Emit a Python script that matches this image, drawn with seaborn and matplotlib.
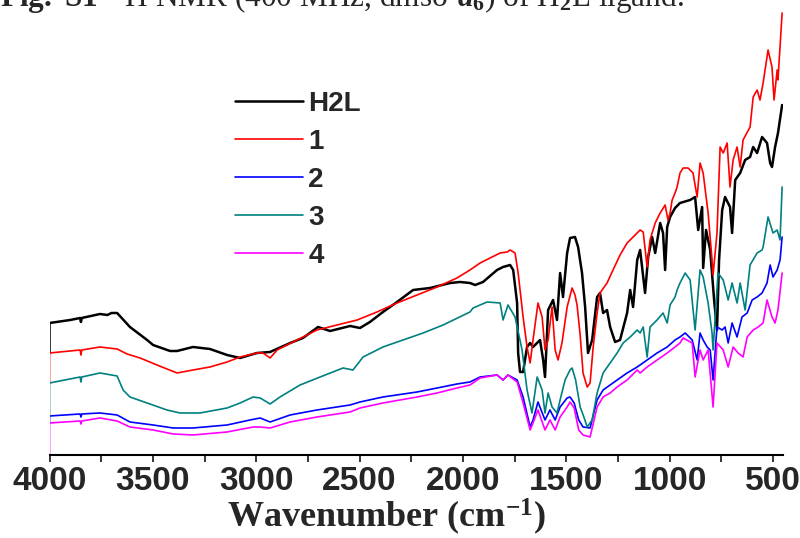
import matplotlib
matplotlib.use("Agg")
import matplotlib.pyplot as plt
from matplotlib.ticker import MultipleLocator
import pandas as pd
import seaborn as sns

# ---- FT-IR spectra (transmittance, arbitrary units, offset for clarity) ----
samples = ["H2L", "1", "2", "3", "4"]
colors = ["#000000", "#ff0000", "#0000ff", "#008080", "#ff00ff"]

wn_h2l = [4000, 3900, 3852, 3848, 3844, 3756, 3720, 3700, 3673, 3611, 3528, 3499, 3417, 3383,
          3306, 3224, 3141, 3078, 3030, 2996, 2933, 2836, 2774, 2701, 2643, 2546, 2498, 2450,
          2387, 2319, 2241, 2159, 2062, 2014, 1966, 1941, 1903, 1835, 1806, 1772, 1757, 1738,
          1733, 1724, 1709, 1690, 1675, 1661, 1627, 1612, 1603, 1588, 1564, 1545, 1530, 1516,
          1496, 1482, 1458, 1443, 1424, 1409, 1395, 1375, 1351, 1337, 1322, 1303, 1288, 1264,
          1240, 1206, 1191, 1177, 1157, 1143, 1119, 1104, 1085, 1070, 1046, 1032, 1022, 1012,
          998, 974, 950, 901, 877, 862, 843, 838, 824, 804, 785, 771, 761, 746, 732, 708, 698,
          683, 659, 635, 611, 596, 577, 553, 529, 514, 505, 490, 476, 456]
t_h2l = [132, 135, 137, 133, 137, 141, 140, 142, 142, 128, 115, 110, 104, 104,
         108, 106, 100, 97, 100, 102, 103, 112, 117, 128, 124, 129, 127, 133,
         143, 153, 165, 167, 172, 173, 172, 170, 173, 185, 188, 190, 185, 152,
         102, 83, 83, 108, 112, 108, 115, 95, 78, 145, 155, 135, 182, 158,
         202, 217, 218, 208, 182, 148, 102, 115, 158, 162, 142, 145, 128, 113,
         115, 142, 165, 148, 195, 205, 162, 198, 218, 202, 232, 222, 185, 228,
         238, 247, 252, 255, 258, 225, 248, 187, 225, 205, 155, 125, 195, 245, 258, 248, 222,
         275, 282, 295, 298, 308, 302, 318, 312, 292, 288, 308, 322, 350]

wn_1 = [4000, 3852, 3848, 3844, 3756, 3673, 3625, 3562, 3480, 3383, 3306, 3224, 3141, 3078,
        2996, 2967, 2933, 2899, 2803, 2706, 2609, 2512, 2416, 2319, 2222, 2125, 2029, 1966,
        1917, 1820, 1786, 1772, 1748, 1733, 1709, 1690, 1675, 1661, 1637, 1617, 1603, 1588,
        1569, 1554, 1540, 1521, 1496, 1472, 1458, 1448, 1433, 1419, 1399, 1385, 1370, 1351,
        1337, 1303, 1274, 1240, 1206, 1177, 1143, 1128, 1109, 1095, 1070, 1046, 1022, 1008,
        998, 988, 974, 964, 950, 935, 911, 887, 867, 853, 838, 814, 795, 790, 771, 756, 741,
        722, 708, 693, 674, 659, 645, 611, 596, 577, 563, 548, 524, 505, 495, 480, 476, 456]
t_1 = [102, 105, 100, 105, 108, 106, 101, 97, 90, 82, 85, 88, 93, 98,
       102, 102, 97, 105, 115, 125, 130, 135, 143, 152, 160, 168, 177, 185,
       192, 202, 203, 205, 202, 182, 138, 108, 92, 115, 152, 138, 105, 115,
       148, 105, 95, 112, 148, 167, 160, 150, 120, 82, 68, 72, 108, 142,
       162, 172, 185, 200, 212, 218, 225, 223, 188, 215, 232, 242, 250, 235,
       242, 255, 262, 268, 282, 287, 287, 282, 258, 292, 282, 242, 195, 180, 222, 308, 302,
       312, 268, 295, 308, 288, 315, 328, 358, 365, 355, 372, 405, 388, 355, 385, 375, 442]

wn_2 = [4000, 3852, 3848, 3844, 3756, 3673, 3611, 3499, 3402, 3306, 3141, 3030, 2981, 2933,
        2836, 2706, 2546, 2498, 2387, 2222, 2125, 2029, 1966, 1917, 1835, 1806, 1782, 1738,
        1709, 1675, 1661, 1637, 1603, 1579, 1554, 1530, 1496, 1482, 1462, 1440, 1419, 1385,
        1351, 1322, 1288, 1254, 1206, 1157, 1109, 1061, 1012, 974, 950, 925, 891, 867, 853,
        838, 819, 804, 790, 771, 746, 732, 717, 698, 674, 650, 625, 601, 577, 553, 529, 514,
        500, 480, 466, 456]
t_2 = [39, 41, 38, 41, 42, 40, 33, 30, 27, 27, 30, 35, 37, 33,
       40, 45, 50, 53, 58, 63, 67, 71, 73, 78, 80, 75, 80, 75,
       58, 28, 35, 53, 35, 45, 35, 48, 57, 58, 52, 35, 28, 27,
       55, 65, 70, 75, 82, 88, 95, 102, 108, 115, 118, 122, 115, 95, 122,
       115, 108, 105, 75, 128, 125, 128, 112, 132, 118, 138, 142, 155, 158, 162, 172, 190,
       178, 185, 195, 218]

wn_3 = [4000, 3852, 3848, 3844, 3756, 3673, 3644, 3611, 3528, 3432, 3369, 3272, 3141, 3078,
        3015, 2981, 2933, 2885, 2788, 2691, 2580, 2532, 2483, 2387, 2290, 2193, 2096, 1966,
        1951, 1883, 1820, 1806, 1782, 1748, 1714, 1690, 1666, 1641, 1617, 1603, 1588, 1569,
        1545, 1530, 1506, 1482, 1472, 1455, 1433, 1415, 1399, 1375, 1351, 1322, 1288, 1254,
        1225, 1191, 1157, 1143, 1128, 1109, 1095, 1061, 1032, 1012, 998, 974, 964, 950, 925,
        901, 877, 853, 838, 814, 795, 790, 766, 741, 717, 698, 674, 659, 635, 611, 577, 553,
        548, 524, 500, 480, 466, 456]
t_3 = [72, 78, 73, 78, 82, 79, 65, 58, 52, 45, 42, 42, 47, 52,
       58, 57, 51, 58, 70, 78, 87, 85, 98, 108, 115, 122, 130, 143,
       147, 153, 152, 135, 150, 138, 105, 65, 42, 78, 65, 42, 62, 48,
       42, 55, 75, 85, 87, 75, 48, 38, 28, 35, 62, 82, 92, 102,
       112, 118, 125, 122, 128, 98, 128, 135, 142, 132, 150, 158, 165, 172, 182,
       175, 125, 185, 178, 152, 122, 105, 182, 175, 155, 172, 152, 172, 145, 190, 202, 205,
       208, 238, 222, 225, 215, 268]

wn_4 = [4000, 3852, 3848, 3844, 3756, 3673, 3611, 3499, 3402, 3306, 3141, 3015, 2981, 2933,
        2836, 2706, 2546, 2498, 2387, 2222, 2125, 2029, 1966, 1917, 1835, 1806, 1782, 1738,
        1709, 1675, 1661, 1637, 1603, 1579, 1554, 1530, 1496, 1482, 1462, 1440, 1419, 1385,
        1351, 1322, 1288, 1254, 1206, 1157, 1143, 1109, 1061, 1012, 974, 950, 935, 891, 877,
        853, 838, 814, 790, 771, 741, 717, 693, 669, 645, 625, 596, 572, 548, 529, 505, 490,
        476, 456]
t_4 = [32, 34, 31, 34, 37, 34, 28, 25, 21, 20, 23, 28, 28, 27,
       33, 38, 43, 47, 52, 58, 62, 67, 70, 77, 80, 75, 80, 73,
       52, 25, 32, 45, 25, 35, 25, 38, 48, 53, 47, 25, 20, 18,
       48, 58, 62, 68, 75, 85, 82, 88, 95, 102, 108, 112, 117, 112, 78,
       105, 95, 105, 48, 112, 105, 88, 108, 102, 98, 118, 125, 128, 132, 155, 138, 132,
       145, 182]

xticks = [4000, 3500, 3000, 2500, 2000, 1500, 1000, 500]

spectra = {"H2L": (wn_h2l, t_h2l), "1": (wn_1, t_1), "2": (wn_2, t_2),
           "3": (wn_3, t_3), "4": (wn_4, t_4)}

# each trace opens with a vertical drop at 4000 cm-1 down to the next trace below it
starts = {s: v[1][0] for s, v in spectra.items()}
stack = sorted(starts, key=starts.get, reverse=True)
floors = {s: (starts[stack[i + 1]] if i + 1 < len(stack) else 0) for i, s in enumerate(stack)}

frames = []
for s in samples:
    wn, t = spectra[s]
    frames.append(pd.DataFrame({"wavenumber": [wn[0]] + list(wn),
                                "transmittance": [floors[s]] + list(t),
                                "sample": s}))
df = pd.concat(frames, ignore_index=True)

sns.set_theme(style="ticks")
plt.rcParams.update({
    "font.family": ["Liberation Sans", "DejaVu Sans"],
    "font.weight": "bold",
    "mathtext.fontset": "custom",
    "mathtext.rm": "Liberation Serif",
    "mathtext.it": "Liberation Serif:italic",
    "mathtext.bf": "Liberation Serif:bold",
})

fig = plt.figure(figsize=(8, 5.38), dpi=100)
ax = fig.add_axes([0.0619, 0.1543, 0.9173, 0.8271])

sns.lineplot(data=df, x="wavenumber", y="transmittance", hue="sample",
             hue_order=samples, palette=colors, sort=False, estimator=None,
             legend=False, linewidth=1.2, ax=ax)
ax.lines[0].set_linewidth(1.8)

ax.set_xlim(4000, 450)
ax.set_ylim(0, 445)
ax.set_xticks(xticks)
ax.xaxis.set_minor_locator(MultipleLocator(250))
ax.set_yticks([])
ax.set_ylabel("")
sns.despine(ax=ax, left=True)
ax.spines["bottom"].set_linewidth(1.5)
ax.spines["bottom"].set_color("black")
ax.tick_params(axis="x", which="both", direction="out", length=5, width=1.1,
               color="black", pad=3)
for lab in ax.get_xticklabels():
    lab.set_fontsize(24)
    lab.set_fontweight("bold")
    lab.set_fontfamily("Liberation Sans")

ax.set_xlabel(r"Wavenumber (cm$^{\mathbf{-1}}$)", fontfamily="Liberation Serif",
              fontweight="bold", fontsize=26)
ax.xaxis.set_label_coords(0.4586, -0.094)

ax.legend(handles=ax.lines[:5], labels=samples, loc="upper left",
          bbox_to_anchor=(0.294, 0.831), bbox_transform=fig.transFigure,
          frameon=False, borderpad=0, borderaxespad=0, handlelength=2.45,
          handletextpad=0.18, labelspacing=0.43,
          prop={"family": "Liberation Sans", "weight": "bold", "size": 20})

fig.text(0.0, 1 - 7 / 538,
         r"$\mathbf{Fig.\ S1}$  $^{1}$H NMR (400 MHz, dmso-$d_{6}$) of H$_{2}$L ligand.",
         fontfamily="Liberation Serif", fontweight="normal", fontsize=22.5,
         va="baseline", ha="left")

fig.savefig("out.png", dpi=100)
